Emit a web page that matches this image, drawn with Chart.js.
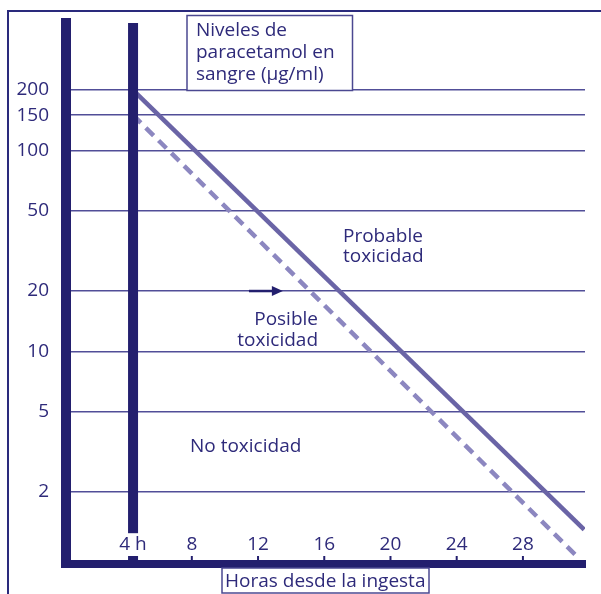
<!DOCTYPE html>
<html>
<head>
<meta charset="utf-8">
<script src="https://cdn.jsdelivr.net/npm/chart.js@4.4.1/dist/chart.umd.min.js"></script>
<style>
html,body{margin:0;padding:0;background:#ffffff;}
canvas{display:block;}
</style>
</head>
<body>
<canvas id="c" width="601" height="594"></canvas>
<script>
// ---- data ----
const yTickValues = [200, 150, 100, 50, 20, 10, 5, 2];
const xTickHours = [4, 8, 12, 16, 20, 24, 28];
const xTickLabels = ['4 h', '8', '12', '16', '20', '24', '28'];
const treatmentLineHour = 4.45;
const probableHours = [4.45, 31.7];
const probableLevels = [200, 1.3];
const posibleHours = [4.45, 31.25];
const posibleLevels = [150, 0.96];
const arrowHours = [11.45, 13.5];
const arrowLevel = 20;
const yTitleLines = ['Niveles de', 'paracetamol en', 'sangre (μg/ml)'];
const xTitle = 'Horas desde la ingesta';
const probableLabel = ['Probable', 'toxicidad'];
const posibleLabel = ['Posible', 'toxicidad'];
const noLabel = ['No toxicidad'];

// ---- styles / layout ----
const X_MIN = 0.4, X_MAX = 31.75;
const Y_MIN = 0.877, Y_MAX = 431;
const AXIS = '#231f6e';
const TEXT = '#2e2a7a';
const GRID = '#514e98';
const FRAME = '#2a2a7c';
const BOX = '#4b4891';
const FONT = '"Open Sans", "Noto Sans", sans-serif';

Chart.defaults.font.family = FONT;
Chart.defaults.font.size = 19;
Chart.defaults.color = TEXT;

const decor = {
  id: 'decor',
  afterDraw(chart) {
    const ctx = chart.ctx;
    const xs = chart.scales.x, ys = chart.scales.y;
    const ca = chart.chartArea;
    ctx.save();
    // fill the axis corner
    ctx.fillStyle = AXIS;
    ctx.fillRect(ca.left - 5, ca.bottom - 4, 6, 8);

    // outer frame
    ctx.strokeStyle = FRAME;
    ctx.lineWidth = 2;
    ctx.beginPath();
    ctx.moveTo(8, 594);
    ctx.lineTo(8, 11);
    ctx.lineTo(601, 11);
    ctx.stroke();

    ctx.font = '19px ' + FONT;
    ctx.textBaseline = 'alphabetic';

    // y title box
    ctx.fillStyle = '#ffffff';
    ctx.fillRect(187, 15.5, 165.5, 75);
    ctx.strokeStyle = BOX;
    ctx.lineWidth = 1.5;
    ctx.strokeRect(187, 15.5, 165.5, 75);
    ctx.fillStyle = TEXT;
    ctx.textAlign = 'left';
    yTitleLines.forEach((t, i) => ctx.fillText(t, 196, 36 + i * 22));

    // x title box
    ctx.fillStyle = '#ffffff';
    ctx.fillRect(222, 568, 207, 25);
    ctx.strokeStyle = BOX;
    ctx.strokeRect(222, 568, 207, 25);
    ctx.fillStyle = TEXT;
    ctx.fillText(xTitle, 225, 587);

    // region labels
    ctx.textAlign = 'left';
    probableLabel.forEach((t, i) => ctx.fillText(t, 343, 242 + i * 20));
    ctx.textAlign = 'right';
    posibleLabel.forEach((t, i) => ctx.fillText(t, 318, 325 + i * 21));
    ctx.textAlign = 'left';
    noLabel.forEach((t, i) => ctx.fillText(t, 190, 452 + i * 21));

    // arrow
    const ax1 = xs.getPixelForValue(arrowHours[0]);
    const ax2 = xs.getPixelForValue(arrowHours[1]);
    const ay = ys.getPixelForValue(arrowLevel);
    ctx.strokeStyle = AXIS;
    ctx.fillStyle = AXIS;
    ctx.lineWidth = 2.5;
    ctx.beginPath();
    ctx.moveTo(ax1, ay);
    ctx.lineTo(ax2 - 8, ay);
    ctx.stroke();
    ctx.beginPath();
    ctx.moveTo(ax2, ay);
    ctx.lineTo(ax2 - 11, ay - 5);
    ctx.lineTo(ax2 - 11, ay + 5);
    ctx.closePath();
    ctx.fill();
    ctx.restore();
  }
};

const toPoints = (xs, ys) => xs.map((x, i) => ({x: x, y: ys[i]}));

new Chart(document.getElementById('c'), {
  type: 'line',
  data: {
    datasets: [
      {
        label: 'tratamiento',
        data: [{x: treatmentLineHour, y: Y_MIN}, {x: treatmentLineHour, y: Y_MAX}],
        borderColor: AXIS,
        borderWidth: 10,
        borderCapStyle: 'butt',
        pointRadius: 0
      },
      {
        label: 'Probable toxicidad',
        data: toPoints(probableHours, probableLevels),
        borderColor: '#6a64a6',
        borderWidth: 4.5,
        borderCapStyle: 'butt',
        pointRadius: 0
      },
      {
        label: 'Posible toxicidad',
        data: toPoints(posibleHours, posibleLevels),
        borderColor: '#8c87c0',
        borderWidth: 4.5,
        borderDash: [11, 7],
        borderCapStyle: 'butt',
        pointRadius: 0
      },
      {
        label: 'marcas',
        data: xTickHours.slice(1).map(h => ({x: h, y: Y_MIN})),
        showLine: false,
        pointStyle: 'line',
        pointRotation: 90,
        pointRadius: 8,
        pointBorderWidth: 2,
        pointBorderColor: AXIS,
        pointBackgroundColor: AXIS,
        clip: 0
      }
    ]
  },
  options: {
    responsive: false,
    animation: false,
    devicePixelRatio: 1,
    layout: {padding: {left: 0, right: 16, top: 23, bottom: 0}},
    plugins: {legend: {display: false}, tooltip: {enabled: false}},
    scales: {
      x: {
        type: 'linear',
        min: X_MIN,
        max: X_MAX,
        afterBuildTicks: s => { s.ticks = xTickHours.map(h => ({value: h === 4 ? treatmentLineHour : h})); },
        afterFit: s => { s.height = 30; s.paddingLeft = 0; s.paddingRight = 0; s.paddingTop = 0; s.paddingBottom = 0; },
        grid: {display: true, drawOnChartArea: false, drawTicks: false},
        border: {display: true, color: AXIS, width: 8, z: 1},
        ticks: {
          z: 1,
          mirror: true,
          padding: 8,
          color: TEXT,
          font: {size: 19},
          maxRotation: 0,
          autoSkip: false,
          showLabelBackdrop: true,
          backdropColor: '#ffffff',
          backdropPadding: {top: 0, bottom: 0, left: 2, right: 2},
          callback: (v, i) => xTickLabels[i]
        }
      },
      y: {
        type: 'logarithmic',
        min: Y_MIN,
        max: Y_MAX,
        afterBuildTicks: s => { s.ticks = yTickValues.map(v => ({value: v})); },
        afterFit: s => { s.width = 66; s.paddingTop = 0; s.paddingBottom = 0; s.paddingLeft = 0; s.paddingRight = 0; },
        grid: {color: GRID, lineWidth: 1.5, drawTicks: false},
        border: {display: true, color: AXIS, width: 10},
        ticks: {
          padding: 17,
          color: TEXT,
          font: {size: 19},
          autoSkip: false,
          callback: (v, i) => String(yTickValues[i])
        }
      }
    }
  },
  plugins: [decor]
});
</script>
</body>
</html>
